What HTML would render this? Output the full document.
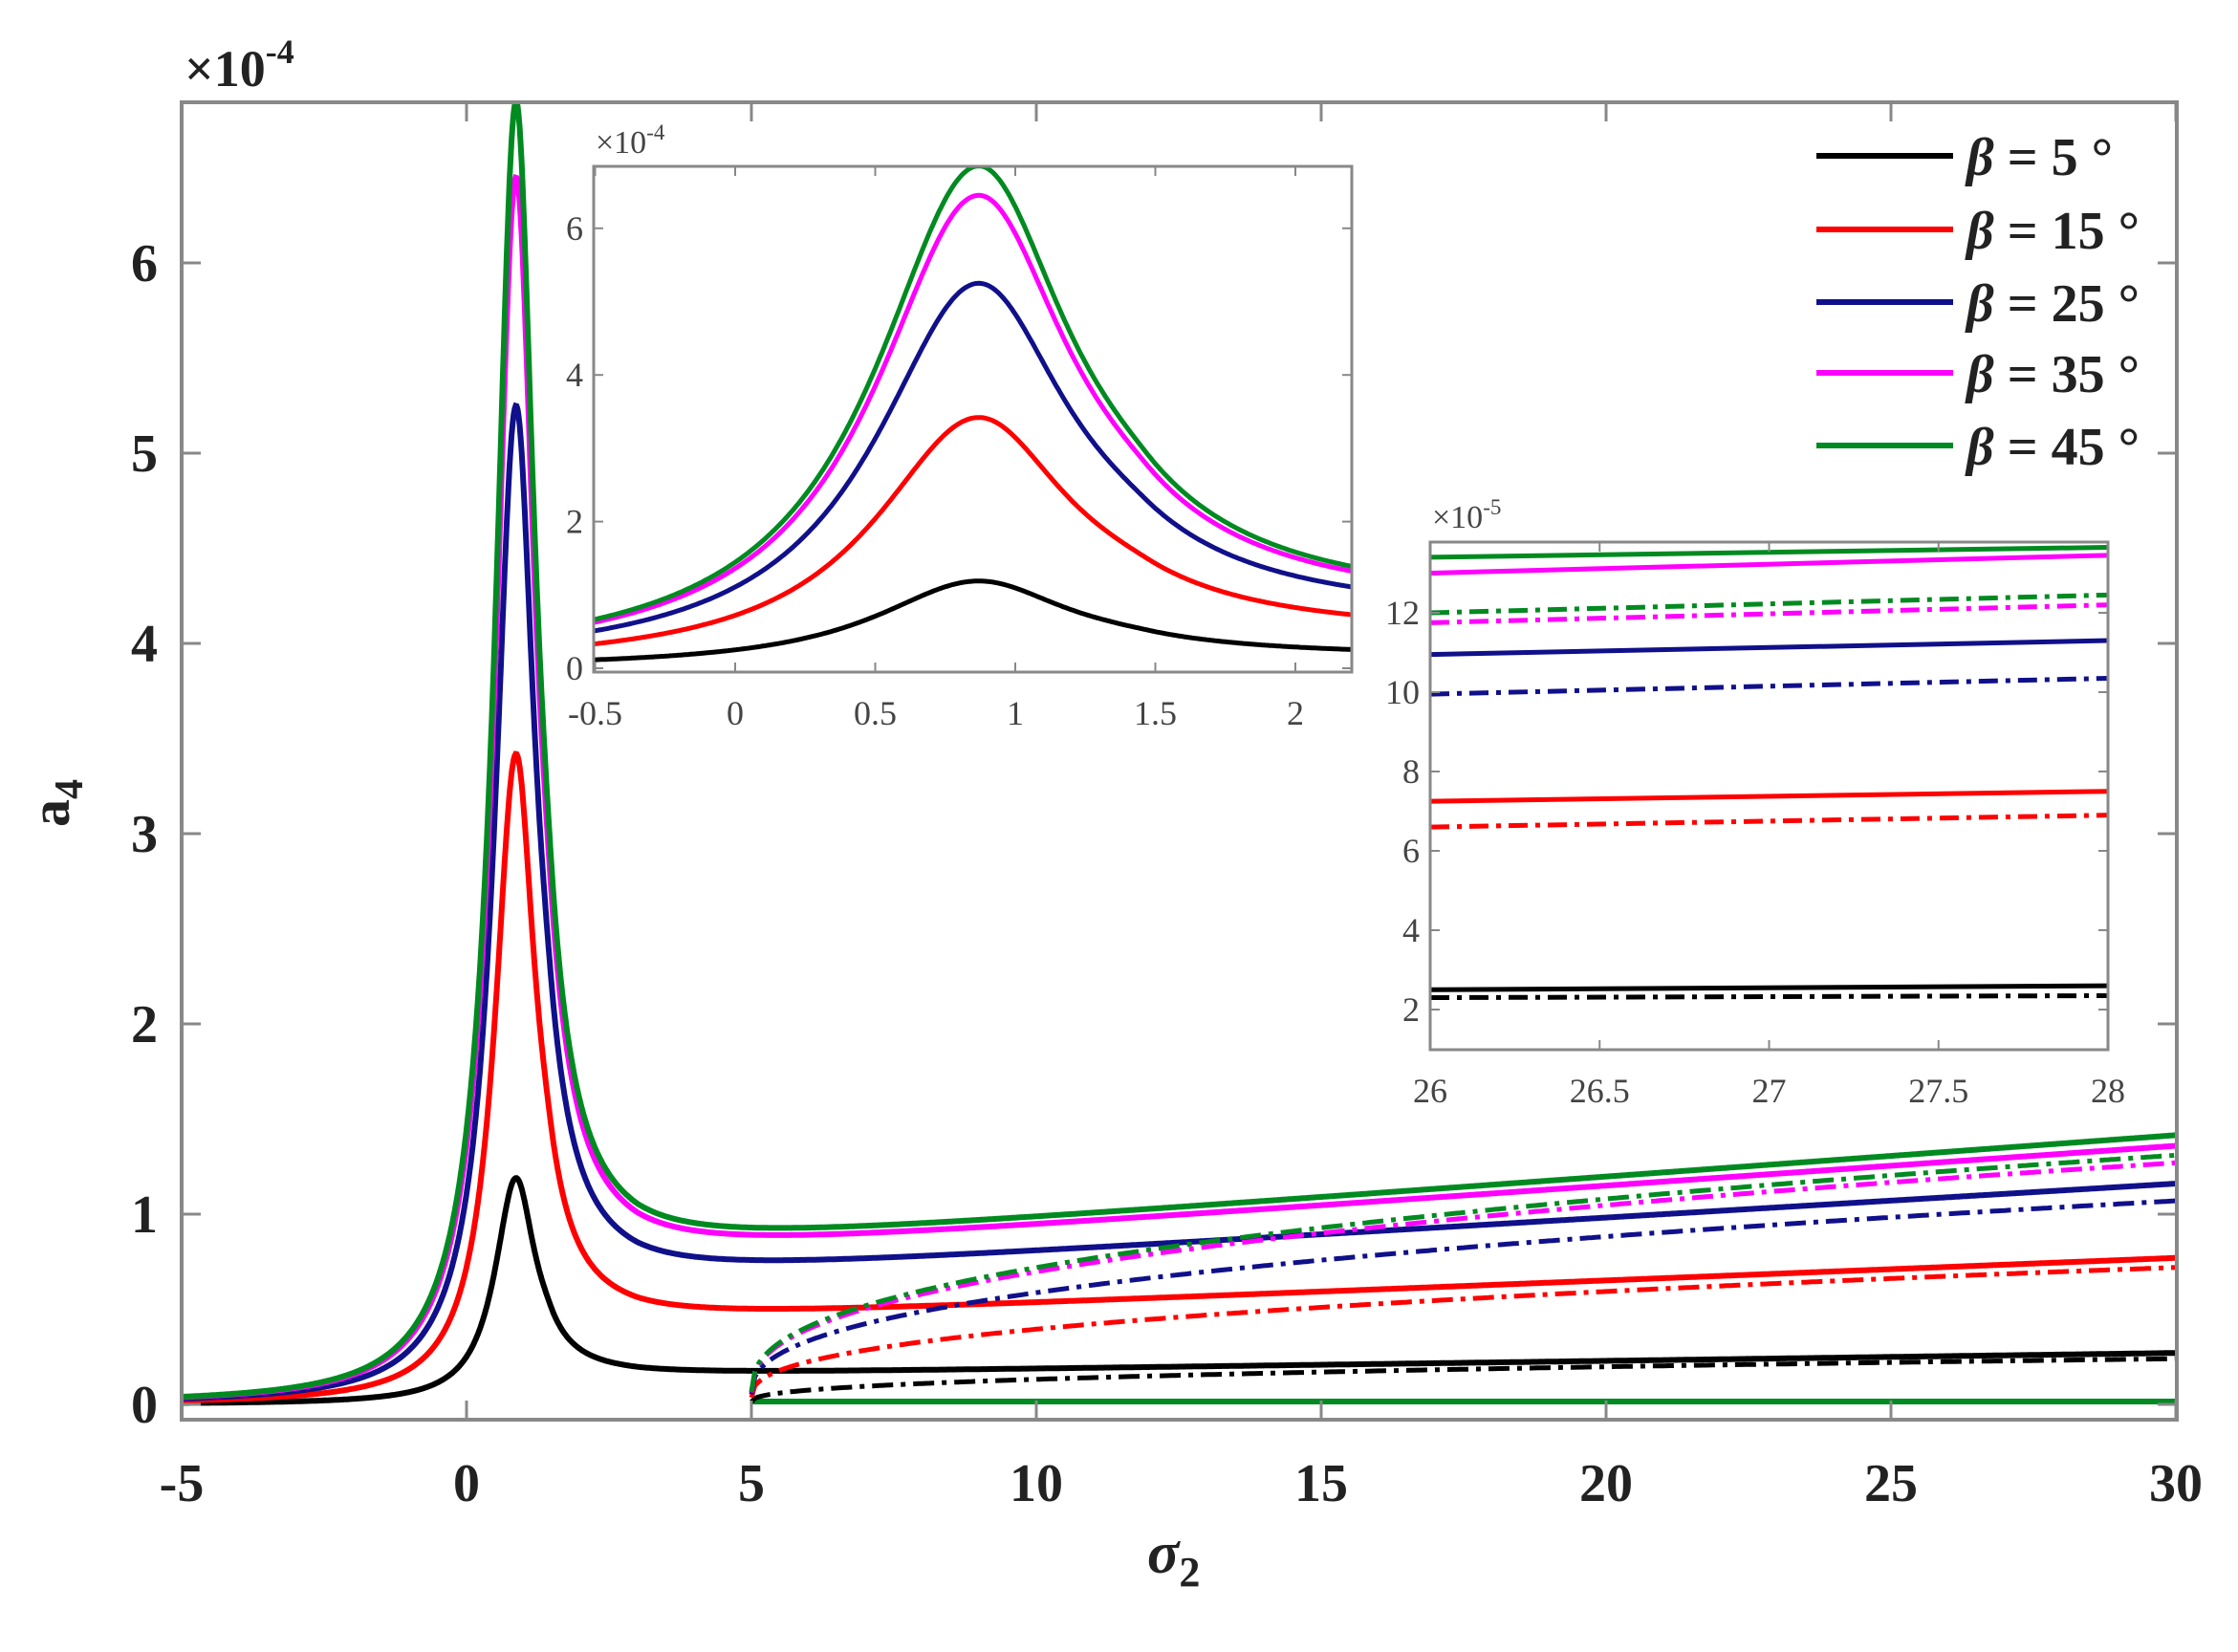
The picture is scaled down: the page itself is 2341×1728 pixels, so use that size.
<!DOCTYPE html>
<html><head><meta charset="utf-8">
<style>
html,body{margin:0;padding:0;background:#fff;}
svg{display:block;}
.t{font-family:"Liberation Serif",serif;font-weight:bold;fill:#222;}
.s{font-family:"Liberation Serif",serif;fill:#444;}
</style></head>
<body>
<svg id="svg" width="2341" height="1728" viewBox="0 0 2341 1728" xmlns="http://www.w3.org/2000/svg">
<defs>
<clipPath id="c0"><rect x="190" y="107" width="2087" height="1378"/></clipPath>
<clipPath id="c1"><rect x="621" y="174" width="793" height="529"/></clipPath>
<clipPath id="c2"><rect x="1496" y="567" width="709" height="531"/></clipPath>
</defs>
<rect width="2341" height="1728" fill="#fff"/>
<g id="main" clip-path="url(#c0)"></g>
<rect x="190" y="107" width="2087" height="1378" fill="none" stroke="#888" stroke-width="4"/>
<g id="ticks" stroke="#888" stroke-width="3"></g>
<g class="t" font-size="56" text-anchor="end" id="ylab"></g>
<g class="t" font-size="56" text-anchor="middle" id="xlab"></g>
<text class="t" x="193" y="90" font-size="54" font-weight="normal">×10<tspan font-size="36" dy="-24">-4</tspan></text>
<text class="t" x="72" y="840" font-size="58" transform="rotate(-90 72 840)" text-anchor="middle">a<tspan font-size="42" dy="14">4</tspan></text>
<text class="t" x="1200" y="1645" font-size="62" font-style="italic" font-weight="normal">σ<tspan font-size="44" dy="14" font-style="normal" font-weight="bold">2</tspan></text>
<g stroke-width="6">
<line x1="1900" y1="163" x2="2043" y2="163" stroke="#000"/>
<line x1="1900" y1="240" x2="2043" y2="240" stroke="#ff0000"/>
<line x1="1900" y1="316" x2="2043" y2="316" stroke="#10108a"/>
<line x1="1900" y1="390" x2="2043" y2="390" stroke="#ff00ff"/>
<line x1="1900" y1="466" x2="2043" y2="466" stroke="#008a20"/>
</g>
<g class="t" font-size="56">
<text x="2057" y="183"><tspan font-style="italic">β</tspan> = 5 °</text>
<text x="2057" y="260"><tspan font-style="italic">β</tspan> = 15 °</text>
<text x="2057" y="336"><tspan font-style="italic">β</tspan> = 25 °</text>
<text x="2057" y="410"><tspan font-style="italic">β</tspan> = 35 °</text>
<text x="2057" y="486"><tspan font-style="italic">β</tspan> = 45 °</text>
</g>
<rect x="621" y="174" width="793" height="529" fill="#fff"/>
<g id="in1" clip-path="url(#c1)"></g>
<rect x="621" y="174" width="793" height="529" fill="none" stroke="#888" stroke-width="3"/>
<g id="t1" stroke="#888" stroke-width="2"></g>
<g class="s" font-size="36" id="l1"></g>
<text class="s" x="623" y="160" font-size="34">×10<tspan font-size="23" dy="-14">-4</tspan></text>
<rect x="1496" y="567" width="709" height="531" fill="#fff"/>
<g id="in2" clip-path="url(#c2)"></g>
<rect x="1496" y="567" width="709" height="531" fill="none" stroke="#888" stroke-width="3"/>
<g id="t2" stroke="#888" stroke-width="2"></g>
<g class="s" font-size="36" id="l2"></g>
<text class="s" x="1498" y="552" font-size="34">×10<tspan font-size="23" dy="-14">-5</tspan></text>
</svg>
<script>
const NS="http://www.w3.org/2000/svg";
function el(p,t,a,txt){const e=document.createElementNS(NS,t);for(const k in a)e.setAttribute(k,a[k]);if(txt!==undefined)e.textContent=txt;document.getElementById(p).appendChild(e);return e;}
function peak(x){const d=x-0.87;const w=d<0?0.45:0.40;return 1/(1+(d/w)*(d/w));}
function base(x){if(x<=0.87)return 0;let s=Math.min(1,(x-0.87)/0.6);s=s*s*(3-2*s);return s*(0.12+Math.max(0,x-3)*0.0032);}
const S=[
 {c:"#000",P:1.19,T:1.1,D:0.24},
 {c:"#ff0000",P:3.42,T:1.09,D:0.72},
 {c:"#10108a",P:5.25,T:1.07,D:1.07},
 {c:"#ff00ff",P:6.45,T:1.02,D:1.27},
 {c:"#008a20",P:6.85,T:1.0,D:1.31}];
function val(s,x){return s.P*(peak(x)+s.T*base(x));}
function dd(s,x){if(x<5)return null;const u=(x-5)/25;return 0.05*s.D+0.95*s.D*Math.pow(u,0.4);}
function path(fx,fy,f,a,b,n){let d="";for(let i=0;i<=n;i++){const x=a+(b-a)*i/n;const y=f(x);if(y===null)continue;d+=(d?"L":"M")+fx(x).toFixed(1)+" "+fy(y).toFixed(1);}return d;}
const MX=x=>488+59.6*x, MY=y=>1469-199*y;
S.forEach(s=>{el("main","path",{d:path(MX,MY,x=>0.015,5,30,2),stroke:s.c,"stroke-width":6,fill:"none"});});
S.forEach(s=>{el("main","path",{d:path(MX,MY,x=>dd(s,x),5,30,400),stroke:s.c,"stroke-width":5,fill:"none","stroke-dasharray":"22 8 5 8"});
 el("main","path",{d:path(MX,MY,x=>val(s,x),-5,30,2000),stroke:s.c,"stroke-width":6,fill:"none"});});
for(let v=0;v<=6;v++){const y=MY(v);el("ticks","line",{x1:190,y1:y,x2:210,y2:y});el("ticks","line",{x1:2277,y1:y,x2:2257,y2:y});el("ylab","text",{x:165,y:y+19},String(v));}
for(let v=-5;v<=30;v+=5){const x=MX(v);el("ticks","line",{x1:x,y1:1485,x2:x,y2:1465});el("ticks","line",{x1:x,y1:107,x2:x,y2:127});el("xlab","text",{x:x,y:1570},String(v));}
const AX=x=>769+293*x, AY=y=>699-76.7*y;
S.forEach(s=>{el("in1","path",{d:path(AX,AY,x=>val(s,x),-0.6,2.3,400),stroke:s.c,"stroke-width":5,fill:"none"});});
[0,2,4,6].forEach(v=>{const y=AY(v);el("t1","line",{x1:621,y1:y,x2:631,y2:y});el("t1","line",{x1:1414,y1:y,x2:1404,y2:y});el("l1","text",{x:610,y:y+12,"text-anchor":"end"},String(v));});
[-0.5,0,0.5,1,1.5,2].forEach(v=>{const x=AX(v);el("t1","line",{x1:x,y1:703,x2:x,y2:693});el("t1","line",{x1:x,y1:174,x2:x,y2:184});el("l1","text",{x:x,y:758,"text-anchor":"middle"},String(v));});
const BX=x=>1496+354.5*(x-26), BY=y=>1056-41.5*(y-2);
const L2=[["#000",2.5,2.6,2.3,2.35],["#ff0000",7.25,7.5,6.6,6.9],["#10108a",10.95,11.3,9.95,10.35],["#ff00ff",13.0,13.45,11.75,12.2],["#008a20",13.4,13.65,12.0,12.45]];
L2.forEach(l=>{el("in2","line",{x1:BX(26),y1:BY(l[3]),x2:BX(28),y2:BY(l[4]),stroke:l[0],"stroke-width":5,"stroke-dasharray":"20 8 5 8"});
 el("in2","line",{x1:BX(26),y1:BY(l[1]),x2:BX(28),y2:BY(l[2]),stroke:l[0],"stroke-width":5});});
[2,4,6,8,10,12].forEach(v=>{const y=BY(v);el("t2","line",{x1:1496,y1:y,x2:1506,y2:y});el("t2","line",{x1:2205,y1:y,x2:2195,y2:y});el("l2","text",{x:1485,y:y+12,"text-anchor":"end"},String(v));});
[26,26.5,27,27.5,28].forEach(v=>{const x=BX(v);el("t2","line",{x1:x,y1:1098,x2:x,y2:1088});el("t2","line",{x1:x,y1:567,x2:x,y2:577});el("l2","text",{x:x,y:1153,"text-anchor":"middle"},String(v));});
</script>
</body></html>
